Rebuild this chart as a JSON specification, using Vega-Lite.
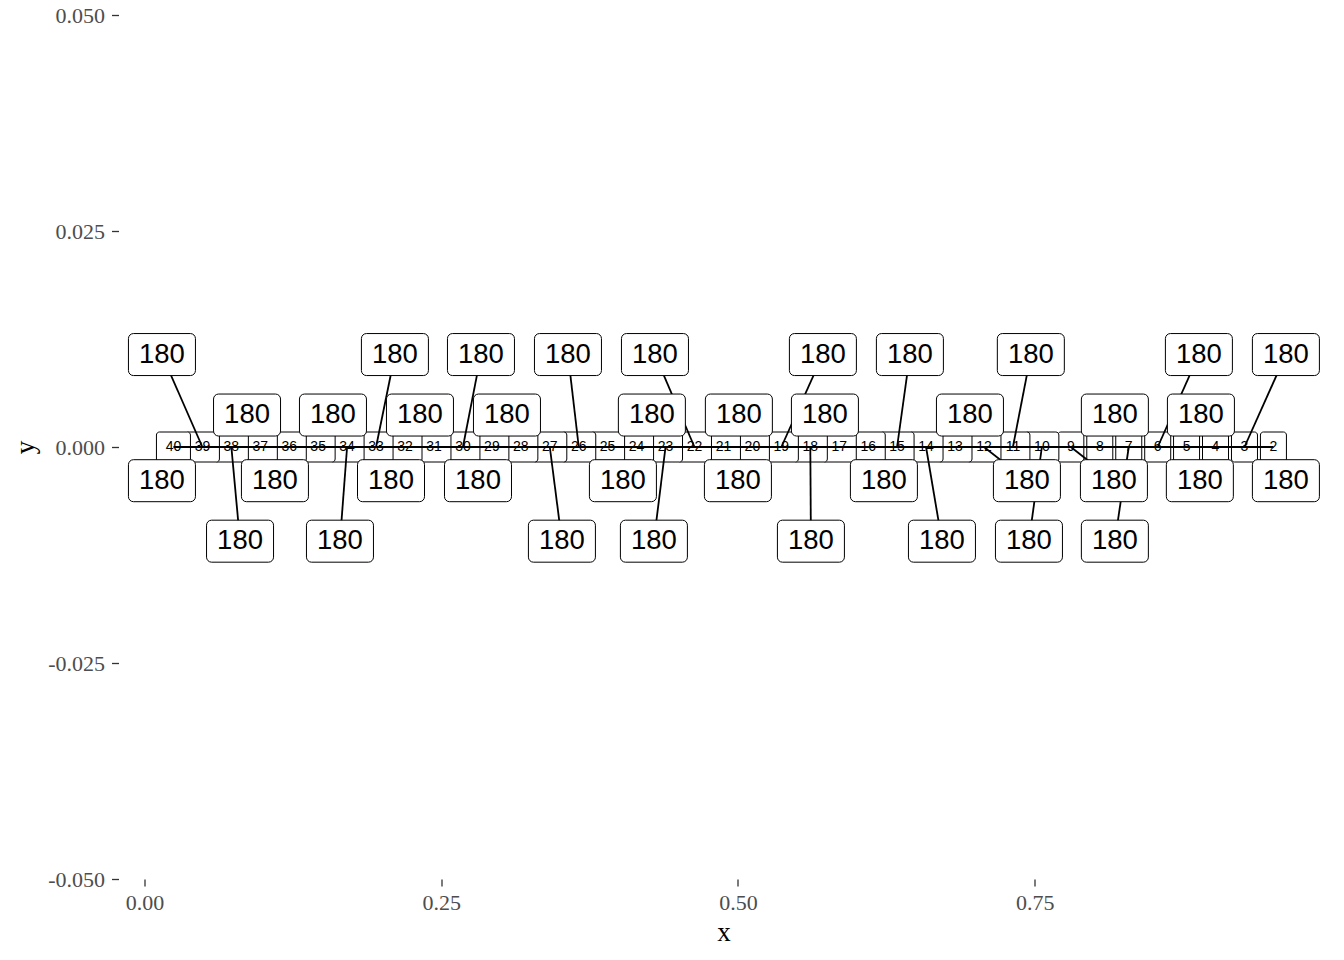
{
  "$schema": "https://vega.github.io/schema/vega-lite/v6.json",
  "width": 1210,
  "height": 864,
  "autosize": {"type": "none"},
  "padding": {"left": 118.5, "top": 15, "right": 15.5, "bottom": 81},
  "background": "white",
  "config": {
    "view": {"stroke": null},
    "axis": {"grid": false, "domain": false, "tickColor": "#333333", "tickWidth": 1.3, "tickSize": 7,
      "labelFont": "Liberation Serif", "labelFontSize": 22, "labelColor": "#4D4D4D",
      "titleFont": "Liberation Serif", "titleFontSize": 27, "titleFontWeight": "normal", "titleColor": "#000000"}
  },
  "data": {"values": [
    {"n": 2, "x": 0.9512, "y": 0, "lx": 0.9617, "ly": -0.0039, "value": 180},
    {"n": 3, "x": 0.9268, "y": 0, "lx": 0.9617, "ly": 0.0107, "value": 180},
    {"n": 4, "x": 0.9024, "y": 0, "lx": 0.8892, "ly": -0.0039, "value": 180},
    {"n": 5, "x": 0.8780, "y": 0, "lx": 0.8901, "ly": 0.0037, "value": 180},
    {"n": 6, "x": 0.8537, "y": 0, "lx": 0.8884, "ly": 0.0107, "value": 180},
    {"n": 7, "x": 0.8293, "y": 0, "lx": 0.8176, "ly": -0.0109, "value": 180},
    {"n": 8, "x": 0.8049, "y": 0, "lx": 0.8176, "ly": 0.0037, "value": 180},
    {"n": 9, "x": 0.7805, "y": 0, "lx": 0.8168, "ly": -0.0039, "value": 180},
    {"n": 10, "x": 0.7561, "y": 0, "lx": 0.7452, "ly": -0.0109, "value": 180},
    {"n": 11, "x": 0.7317, "y": 0, "lx": 0.7468, "ly": 0.0107, "value": 180},
    {"n": 12, "x": 0.7073, "y": 0, "lx": 0.7435, "ly": -0.0039, "value": 180},
    {"n": 13, "x": 0.6829, "y": 0, "lx": 0.6955, "ly": 0.0037, "value": 180},
    {"n": 14, "x": 0.6585, "y": 0, "lx": 0.6719, "ly": -0.0109, "value": 180},
    {"n": 15, "x": 0.6341, "y": 0, "lx": 0.6449, "ly": 0.0107, "value": 180},
    {"n": 16, "x": 0.6098, "y": 0, "lx": 0.6230, "ly": -0.0039, "value": 180},
    {"n": 17, "x": 0.5854, "y": 0, "lx": 0.5733, "ly": 0.0037, "value": 180},
    {"n": 18, "x": 0.5610, "y": 0, "lx": 0.5615, "ly": -0.0109, "value": 180},
    {"n": 19, "x": 0.5366, "y": 0, "lx": 0.5716, "ly": 0.0107, "value": 180},
    {"n": 20, "x": 0.5122, "y": 0, "lx": 0.5008, "ly": 0.0037, "value": 180},
    {"n": 21, "x": 0.4878, "y": 0, "lx": 0.5000, "ly": -0.0039, "value": 180},
    {"n": 22, "x": 0.4634, "y": 0, "lx": 0.4301, "ly": 0.0107, "value": 180},
    {"n": 23, "x": 0.4390, "y": 0, "lx": 0.4292, "ly": -0.0109, "value": 180},
    {"n": 24, "x": 0.4146, "y": 0, "lx": 0.4275, "ly": 0.0037, "value": 180},
    {"n": 25, "x": 0.3902, "y": 0, "lx": 0.4031, "ly": -0.0039, "value": 180},
    {"n": 26, "x": 0.3659, "y": 0, "lx": 0.3568, "ly": 0.0107, "value": 180},
    {"n": 27, "x": 0.3415, "y": 0, "lx": 0.3517, "ly": -0.0109, "value": 180},
    {"n": 28, "x": 0.3171, "y": 0, "lx": 0.3054, "ly": 0.0037, "value": 180},
    {"n": 29, "x": 0.2927, "y": 0, "lx": 0.2810, "ly": -0.0039, "value": 180},
    {"n": 30, "x": 0.2683, "y": 0, "lx": 0.2835, "ly": 0.0107, "value": 180},
    {"n": 31, "x": 0.2439, "y": 0, "lx": 0.2321, "ly": 0.0037, "value": 180},
    {"n": 32, "x": 0.2195, "y": 0, "lx": 0.2077, "ly": -0.0039, "value": 180},
    {"n": 33, "x": 0.1951, "y": 0, "lx": 0.2110, "ly": 0.0107, "value": 180},
    {"n": 34, "x": 0.1707, "y": 0, "lx": 0.1647, "ly": -0.0109, "value": 180},
    {"n": 35, "x": 0.1463, "y": 0, "lx": 0.1588, "ly": 0.0037, "value": 180},
    {"n": 36, "x": 0.1220, "y": 0, "lx": 0.1099, "ly": -0.0039, "value": 180},
    {"n": 37, "x": 0.0976, "y": 0, "lx": 0.0864, "ly": 0.0037, "value": 180},
    {"n": 38, "x": 0.0732, "y": 0, "lx": 0.0805, "ly": -0.0109, "value": 180},
    {"n": 39, "x": 0.0488, "y": 0, "lx": 0.0147, "ly": 0.0107, "value": 180},
    {"n": 40, "x": 0.0244, "y": 0, "lx": 0.0147, "ly": -0.0039, "value": 180}
  ]},
  "layer": [
    {
      "transform": [{"filter": "datum.n < 10"}],
      "mark": {"type": "rect", "width": 26, "height": 30, "fill": "white", "stroke": "black", "strokeWidth": 1, "cornerRadius": 3},
      "encoding": {
        "x": {"field": "x", "type": "quantitative", "title": "x", "scale": {"domain": [-0.0219, 0.9976], "nice": false, "zero": false},
          "axis": {"values": [0, 0.25, 0.5, 0.75], "format": ".2f", "labelPadding": 6, "titlePadding": 6}},
        "y": {"field": "y", "type": "quantitative", "title": "y", "scale": {"domain": [-0.05, 0.05], "nice": false, "zero": false},
          "axis": {"values": [-0.05, -0.025, 0, 0.025, 0.05], "format": ".3f", "labelExpr": "replace(datum.label, '\u2212', '-')", "labelPadding": 7, "titlePadding": 8}}
      }
    },
    {
      "transform": [{"filter": "datum.n >= 10"}],
      "mark": {"type": "rect", "width": 34, "height": 30, "fill": "white", "stroke": "black", "strokeWidth": 1, "cornerRadius": 3},
      "encoding": {
        "x": {"field": "x", "type": "quantitative", "title": "x", "scale": {"domain": [-0.0219, 0.9976], "nice": false, "zero": false}},
        "y": {"field": "y", "type": "quantitative", "title": "y", "scale": {"domain": [-0.05, 0.05], "nice": false, "zero": false}}
      }
    },
    {
      "mark": {"type": "text", "font": "Liberation Sans", "fontSize": 14, "color": "black", "baseline": "middle", "align": "center"},
      "encoding": {
        "x": {"field": "x", "type": "quantitative", "title": "x", "scale": {"domain": [-0.0219, 0.9976], "nice": false, "zero": false}},
        "y": {"field": "y", "type": "quantitative", "title": "y", "scale": {"domain": [-0.05, 0.05], "nice": false, "zero": false}},
        "text": {"field": "n", "type": "quantitative"}
      }
    },
    {
      "mark": {"type": "line", "color": "black", "strokeWidth": 2.2},
      "encoding": {
        "x": {"field": "x", "type": "quantitative", "title": "x", "scale": {"domain": [-0.0219, 0.9976], "nice": false, "zero": false}},
        "y": {"field": "y", "type": "quantitative", "title": "y", "scale": {"domain": [-0.05, 0.05], "nice": false, "zero": false}}
      }
    },
    {
      "transform": [{"filter": "abs(datum.lx - datum.x) > 0.025 || abs(datum.ly) > 0.006"}],
      "mark": {"type": "rule", "color": "black", "strokeWidth": 1.8},
      "encoding": {
        "x": {"field": "x", "type": "quantitative", "title": "x", "scale": {"domain": [-0.0219, 0.9976], "nice": false, "zero": false}},
        "y": {"field": "y", "type": "quantitative", "title": "y", "scale": {"domain": [-0.05, 0.05], "nice": false, "zero": false}},
        "x2": {"field": "lx"},
        "y2": {"field": "ly"}
      }
    },
    {
      "mark": {"type": "rect", "width": 67, "height": 42, "fill": "white", "stroke": "black", "strokeWidth": 1, "cornerRadius": 5},
      "encoding": {
        "x": {"field": "lx", "type": "quantitative", "title": "x", "scale": {"domain": [-0.0219, 0.9976], "nice": false, "zero": false}},
        "y": {"field": "ly", "type": "quantitative", "title": "y", "scale": {"domain": [-0.05, 0.05], "nice": false, "zero": false}}
      }
    },
    {
      "mark": {"type": "text", "font": "Liberation Sans", "fontSize": 27.5, "color": "black", "baseline": "middle", "align": "center"},
      "encoding": {
        "x": {"field": "lx", "type": "quantitative", "title": "x", "scale": {"domain": [-0.0219, 0.9976], "nice": false, "zero": false}},
        "y": {"field": "ly", "type": "quantitative", "title": "y", "scale": {"domain": [-0.05, 0.05], "nice": false, "zero": false}},
        "text": {"field": "value", "type": "quantitative"}
      }
    }
  ]
}
